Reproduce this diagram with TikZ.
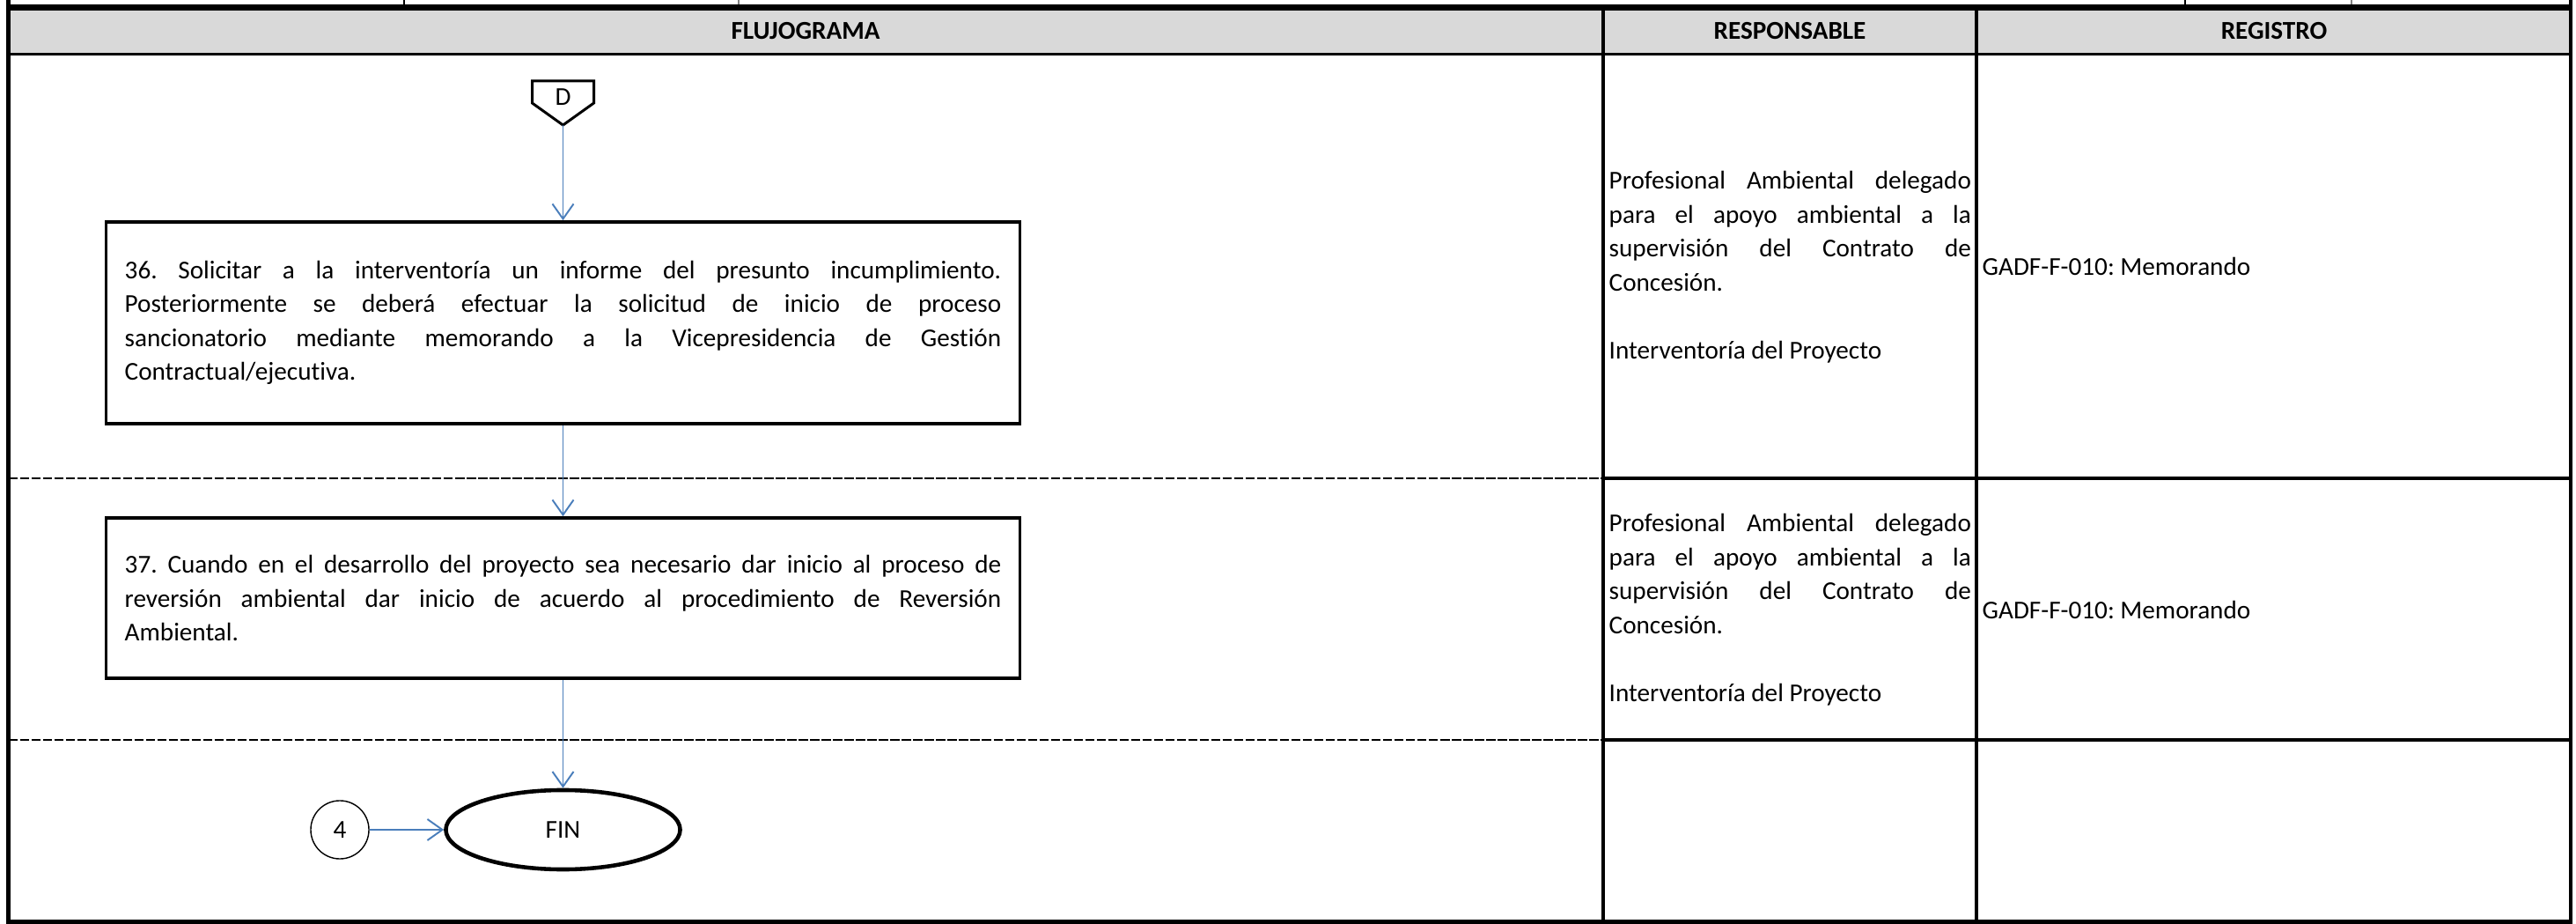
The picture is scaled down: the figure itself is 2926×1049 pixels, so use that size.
\documentclass[tikz,border=0pt]{standalone}
\usepackage{fontspec}
\setmainfont{Carlito}[Ligatures={NoCommon}]
\usetikzlibrary{shapes.geometric,arrows.meta}
\definecolor{flowblue}{HTML}{4A7EBB}
\definecolor{headgray}{HTML}{D9D9D9}
\frenchspacing
\hyphenpenalty=10000
\exhyphenpenalty=10000
\tolerance=9999
\hbadness=10000

\begin{document}
\begin{tikzpicture}[x=0.01cm,y=-0.01cm]
\def\colR{1821}
\def\colG{2245}
\def\rowA{543}
\def\rowB{840}
\def\xmid{639.5}
\tikzset{base/.style={font=\fontsize{8.3}{10.95}\selectfont,inner sep=0pt},
head/.style={base,font=\fontsize{8.3}{10.95}\selectfont\bfseries},
proc/.style={base,draw,line width=1pt,text width=9.95cm,align=justify,
minimum width=10.37cm,inner xsep=0.21cm},
resp/.style={base,text width=4.11cm,align=justify,anchor=west},
reg/.style={base,anchor=west},
endst/.style={base,draw,ellipse,line width=1.3pt,minimum width=2.66cm,minimum height=0.9cm},
link/.style={base,draw,circle,line width=0.4pt,minimum size=0.66cm},
flow/.style={draw,->,line width=0.55pt,flowblue},
>={Straight Barb[length=1.7mm,width=2.4mm]},
cut/.style={line width=0.85pt,dash pattern=on 3pt off 0.7pt},
rule/.style={line width=0.9pt}}
\useasboundingbox (0,0) rectangle (2926,1049);
% table
\fill[headgray] (9.5,8.5) rectangle (2920,61.5);
\draw[line width=0.8pt] (459,0) -- (459,8.5);
\draw[line width=0.3pt,gray] (839,0) -- (839,8.5);
\draw[line width=0.8pt] (2482,0) -- (2482,8.5);
\draw[line width=0.3pt,gray] (2671,0) -- (2671,8.5);
\draw[line width=1.9pt] (9.5,8.5) -- (2920,8.5);
\draw[line width=1pt] (9.5,61.5) -- (2920,61.5);
\draw[rule] (\colR,8.5) -- (\colR,1046.5);
\draw[rule] (\colG,8.5) -- (\colG,1046.5);
\draw[cut] (9.5,\rowA) -- (\colR,\rowA);
\draw[rule] (\colR,\rowA) -- (2920,\rowA);
\draw[cut] (9.5,\rowB) -- (\colR,\rowB);
\draw[rule] (\colR,\rowB) -- (2920,\rowB);
\draw[line width=1.25pt] (9.5,0) -- (9.5,1046.5) -- (2920,1046.5) -- (2920,0);
\node[head] (hflujo) at (915,35) {FLUJOGRAMA};
\node[head] (hresp) at (2033,35) {RESPONSABLE};
\node[head] (hreg) at (2583,35) {REGISTRO};
% flujograma
\draw[line width=0.85pt] (604.5,92) -- (674.5,92) -- (674.5,117) -- (\xmid,142) -- (604.5,117) -- cycle;
\node[base] (D) at (\xmid,110) {D};
\coordinate (Dtip) at (\xmid,142);
\node[proc,minimum height=2.29cm] (b36) at (\xmid,366.5) {36. Solicitar a la interventoría un informe del presunto incumplimiento.\linebreak
Posteriormente se deberá efectuar la solicitud de inicio de proceso\linebreak
sancionatorio mediante memorando a la Vicepresidencia de Gestión\linebreak
Contractual/ejecutiva.};
\node[proc,minimum height=1.82cm] (b37) at (\xmid,679) {37. Cuando en el desarrollo del proyecto sea necesario dar inicio al proceso de\linebreak
reversión ambiental dar inicio de acuerdo al procedimiento de Reversión\linebreak
Ambiental.};
\node[endst] (fin) at (\xmid,942) {FIN};
\node[link] (c4) at (386,942) {4};
\path[flow] (Dtip) -- (b36.north);
\path[flow] (b36.south) -- (b37.north);
\path[flow] (b37.south) -- (fin.north);
\path[flow] (c4.east) -- (fin.west);
% responsable y registro
\node[resp] (r36) at (1827,303) {Profesional Ambiental delegado\linebreak
para el apoyo ambiental a la\linebreak
supervisión del Contrato de\linebreak
Concesión.\\[10.95pt]Interventoría del Proyecto};
\node[reg] (g36) at (2251,302) {GADF-F-010: Memorando};
\node[resp] (r37) at (1827,692) {Profesional Ambiental delegado\linebreak
para el apoyo ambiental a la\linebreak
supervisión del Contrato de\linebreak
Concesión.\\[10.95pt]Interventoría del Proyecto};
\node[reg] (g37) at (2251,692) {GADF-F-010: Memorando};
\end{tikzpicture}
\end{document}
